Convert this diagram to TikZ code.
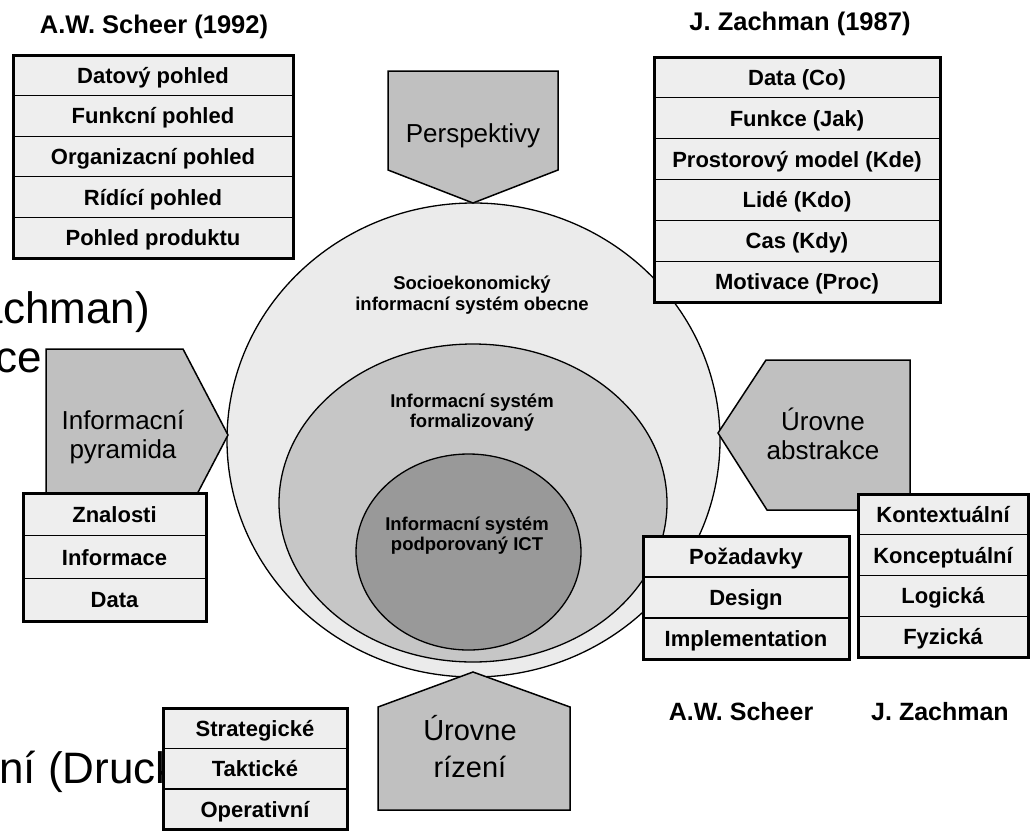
\documentclass[tikz,border=0pt]{standalone}
\usepackage{fontspec}
\setmainfont{Liberation Sans}
\usetikzlibrary{shapes.geometric}
\definecolor{cellgray}{HTML}{EEEEEE}
\definecolor{pentgray}{HTML}{C0C0C0}
\definecolor{outergray}{HTML}{EBEBEB}
\definecolor{midgray}{HTML}{C6C6C6}
\definecolor{innergray}{HTML}{999999}
\begin{document}
\begin{tikzpicture}[x=1pt,y=-1pt,
  cell/.style={draw=black, line width=1.3pt, fill=cellgray, inner sep=0pt, outer sep=0pt,
    anchor=north west, text height=16pt, text depth=0pt,
    font=\bfseries\fontsize{22}{26}\selectfont},
  frame/.style={draw=black, line width=3pt},
  pent/.style={draw=black, line width=1.5pt, fill=pentgray, line join=miter},
  ell/.style={ellipse, draw=black, line width=1.3pt, inner sep=0pt},
  etext/.style={anchor=base, inner sep=0pt, font=\bfseries\fontsize{18.5}{21}\selectfont},
  ptext/.style={anchor=base, inner sep=0pt, font=\fontsize{26}{29}\selectfont},
  title/.style={anchor=base, inner sep=0pt, font=\bfseries\fontsize{25.5}{29}\selectfont},
  bgtext/.style={inner sep=0pt, font=\fontsize{44}{50}\selectfont},
  ta/.style={cell, minimum width=280pt, minimum height=40.6pt},
  tb/.style={cell, minimum width=286pt, minimum height=40.83pt},
  tc/.style={cell, minimum width=183pt, minimum height=42.67pt},
  td/.style={cell, minimum width=206pt, minimum height=41pt},
  te/.style={cell, minimum width=170pt, minimum height=40.75pt},
  tf/.style={cell, minimum width=184pt, minimum height=40.5pt}
]
\useasboundingbox[fill=white] (0,0) rectangle (1030,830);

% partially hidden background text
\node[bgtext, anchor=base east] (bgA) at (150,323) {achman)};
\node[bgtext, anchor=base east] (bgB) at (42,372) {ce};
\node[bgtext, anchor=base west] (bgC) at (-1,783) {ní (Druck};

% ellipses
\node[ell, fill=outergray, minimum width=493pt, minimum height=474pt] (eo) at (473.5,440) {};
\node[ell, fill=midgray, minimum width=388pt, minimum height=318pt] (em) at (473,503) {};
\node[ell, fill=innergray, minimum width=225pt, minimum height=196pt] (ei) at (468.5,552) {};

\node[etext] (eo1) at (472,289) {Socioekonomický};
\node[etext] (eo2) at (472,310) {informacní systém obecne};
\node[etext] (em1) at (472,407) {Informacní systém};
\node[etext] (em2) at (472,427) {formalizovaný};
\node[etext] (ei1) at (467,530) {Informacní systém};
\node[etext] (ei2) at (467,550) {podporovaný ICT};

% pentagons
\draw[pent] (388,71) -- (558,71) -- (558,170) -- (473,203) -- (388,170) -- cycle;
\node[ptext] (pTop) at (473,142) {Perspektivy};

\draw[pent] (46,349) -- (183,349) -- (228,435) -- (183,521) -- (46,521) -- cycle;
\node[ptext] (pL1) at (123,429) {Informacní};
\node[ptext] (pL2) at (123,458) {pyramida};

\draw[pent] (910,360) -- (766,360) -- (718,433) -- (767,510) -- (910,510) -- cycle;
\node[ptext] (pR1) at (823,430) {Úrovne};
\node[ptext] (pR2) at (823,459) {abstrakce};

\draw[pent] (473,672) -- (570,707) -- (570,810) -- (378,810) -- (378,707) -- cycle;
\node[ptext, font=\fontsize{29}{32}\selectfont] (pB1) at (470,740) {Úrovne};
\node[ptext, font=\fontsize{29}{32}\selectfont] (pB2) at (470,777) {rízení};

% table: A.W. Scheer (1992)
\node[title] (tA) at (154,33) {A.W. Scheer (1992)};
\node[ta] (a1) at (13,55) {Datový pohled};
\node[ta] (a2) at (13,95.6) {Funkcní pohled};
\node[ta] (a3) at (13,136.2) {Organizacní pohled};
\node[ta] (a4) at (13,176.8) {Rídící pohled};
\node[ta] (a5) at (13,217.4) {Pohled produktu};
\draw[frame] (a1.north west) rectangle (a5.south east);

% table: J. Zachman (1987)
\node[title] (tB) at (800,30) {J. Zachman (1987)};
\node[tb] (b1) at (654,57) {Data (Co)};
\node[tb] (b2) at (654,97.83) {Funkce (Jak)};
\node[tb] (b3) at (654,138.67) {Prostorový model (Kde)};
\node[tb] (b4) at (654,179.5) {Lidé (Kdo)};
\node[tb] (b5) at (654,220.33) {Cas (Kdy)};
\node[tb] (b6) at (654,261.17) {Motivace (Proc)};
\draw[frame] (b1.north west) rectangle (b6.south east);

% table: pyramida
\node[tc] (c1) at (23,493) {Znalosti};
\node[tc] (c2) at (23,535.67) {Informace};
\node[tc] (c3) at (23,578.33) {Data};
\draw[frame] (c1.north west) rectangle (c3.south east);

% table: Scheer levels
\node[td] (d1) at (643,536) {Požadavky};
\node[td] (d2) at (643,577) {Design};
\node[td] (d3) at (643,618) {Implementation};
\draw[frame] (d1.north west) rectangle (d3.south east);

% table: Zachman levels
\node[te] (e1) at (858,494) {Kontextuální};
\node[te] (e2) at (858,534.75) {Konceptuální};
\node[te] (e3) at (858,575.5) {Logická};
\node[te] (e4) at (858,616.25) {Fyzická};
\draw[frame] (e1.north west) rectangle (e4.south east);

\node[title, font=\bfseries\fontsize{25}{29}\selectfont] (lD) at (741,720) {A.W. Scheer};
\node[title, font=\bfseries\fontsize{25}{29}\selectfont] (lE) at (940,720) {J. Zachman};

% table: management levels
\node[tf] (f1) at (163,708) {Strategické};
\node[tf] (f2) at (163,748.5) {Taktické};
\node[tf] (f3) at (163,789) {Operativní};
\draw[frame] (f1.north west) rectangle (f3.south east);
\end{tikzpicture}
\end{document}
